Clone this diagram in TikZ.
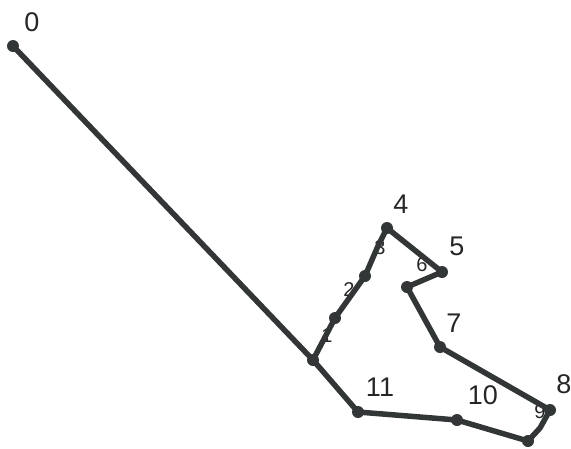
\documentclass[tikz,border=0pt]{standalone}
\usepackage{fontspec}
\setmainfont{Liberation Sans}
\begin{document}
\begin{tikzpicture}[x=1pt,y=-1pt,
  lbl/.style={font=\fontsize{27}{27}\selectfont, text=black!85, inner sep=0pt},
  slbl/.style={font=\fontsize{20}{20}\selectfont, text=black!85, inner sep=0pt},
  seg/.style={draw=ink, line width=5.5pt, line join=round, line cap=round},
  dot/.style={circle, fill=ink, minimum size=12pt, inner sep=0pt}]
\definecolor{ink}{RGB}{50,54,54}
\useasboundingbox (0,0) rectangle (571,448);
% small labels under the lines
\node[slbl] (l1) at (327,336) {1};
\node[slbl] (l2) at (349,290) {2};
\node[slbl] (l3) at (380,248) {3};
\node[slbl] (l6) at (422,265) {6};
\node[slbl] (l9) at (540,412) {9};
% points
\coordinate (p0) at (13,46);
\coordinate (pj) at (313,360);
\coordinate (p1) at (335,318);
\coordinate (p2) at (365,276);
\coordinate (p3) at (378,246);
\coordinate (p4) at (387,228);
\coordinate (p5) at (442,272);
\coordinate (p6) at (407,287);
\coordinate (p7) at (440,347);
\coordinate (p8) at (550,410);
\coordinate (p9) at (540,428);
\coordinate (pb) at (528,441);
\coordinate (p10) at (457,420);
\coordinate (p11) at (358,412);
\draw[seg] (p0) -- (pj) -- (p1) -- (p2) -- (p3) -- (p4) -- (p5) -- (p6) -- (p7) -- (p8) -- (p9) -- (pb) -- (p10) -- (p11) -- (pj);
\foreach \p in {p0,pj,p1,p2,p4,p5,p6,p7,p8,pb,p10,p11}
  \node[dot] at (\p) {};
% main labels
\node[lbl] (t0) at (32,22) {0};
\node[lbl] (t4) at (401,204) {4};
\node[lbl] (t5) at (457,246) {5};
\node[lbl] (t7) at (454,323) {7};
\node[lbl] (t8) at (564,384) {8};
\node[lbl] (t10) at (483,395) {10};
\node[lbl] (t11) at (380,387) {11};
\end{tikzpicture}
\end{document}
